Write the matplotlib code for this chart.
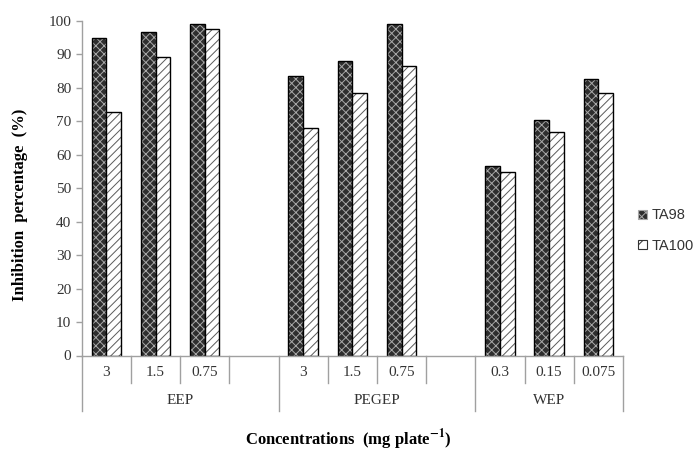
import matplotlib
matplotlib.use("Agg")
import matplotlib.pyplot as plt
from matplotlib.patches import Patch
import numpy as np

# data
groups = ["EEP", "PEGEP", "WEP"]
conc_labels = ["3", "1.5", "0.75", "", "3", "1.5", "0.75", "", "0.3", "0.15", "0.075"]
data_slots = [0, 1, 2, 4, 5, 6, 8, 9, 10]
ta98 = [94.7, 96.7, 99.0, 83.5, 88.1, 99.0, 56.5, 70.4, 82.6]
ta100 = [72.7, 89.2, 97.4, 68.1, 78.4, 86.5, 54.9, 66.9, 78.4]
group_edges = [-0.5, 3.5, 7.5, 10.5]
group_centers = [1.5, 5.5, 9.0]

plt.rcParams["hatch.linewidth"] = 0.7
plt.rcParams["mathtext.fontset"] = "stix"

fig = plt.figure(figsize=(6.98, 4.55), dpi=100)
ax = fig.add_axes([81.7 / 698, 1 - 355.5 / 455, (623 - 81.7) / 698, (355.5 - 20.7) / 455])

x = np.array(data_slots)
w = 0.3
dark_face, dark_hatch = "#2e2e2e", "#a8a8a8"
light_hatch = "#5a5a5a"

# TA98: dark fill with light cross hatch, then black outline on top
ax.bar(x - w / 2, ta98, w, color=dark_face, edgecolor=dark_hatch, hatch="xxxx", linewidth=0)
ax.bar(x - w / 2, ta98, w, fill=False, edgecolor="black", linewidth=1.0)
# TA100: white with diagonal hatch
ax.bar(x + w / 2, ta100, w, color="white", edgecolor=light_hatch, hatch="////", linewidth=0)
ax.bar(x + w / 2, ta100, w, fill=False, edgecolor="black", linewidth=1.0)

ax.set_xlim(-0.5, 10.5)
ax.set_ylim(0, 100)
ax.set_yticks(np.arange(0, 101, 10))
ax.set_xticks([])
for s in ["top", "right"]:
    ax.spines[s].set_visible(False)
for s in ["left", "bottom"]:
    ax.spines[s].set_color("#a0a0a0")
    ax.spines[s].set_linewidth(1.0)
ax.tick_params(axis="y", colors="#a0a0a0", length=4, width=1.0, labelcolor="#333333")
for lab in ax.get_yticklabels():
    lab.set_fontfamily("Liberation Serif")
    lab.set_fontsize(11)

# multi-level category axis
trans = ax.get_xaxis_transform()
for i in range(12):
    xe = i - 0.5
    y_end = -0.166 if xe in group_edges else -0.082
    ax.plot([xe, xe], [0, y_end], color="#a0a0a0", lw=1.0, transform=trans, clip_on=False)
for i, lab in enumerate(conc_labels):
    ax.text(i, -0.052, lab, transform=trans, ha="center", va="center",
            fontfamily="Liberation Serif", fontsize=11, color="#333333")
for gx, g in zip(group_centers, groups):
    ax.text(gx, -0.133, g, transform=trans, ha="center", va="center",
            fontfamily="Liberation Serif", fontsize=11, color="#333333")

fig.text(20 / 698, 1 - 205 / 455, "Inhibition  percentage  (%)", rotation=90,
         ha="center", va="center", fontfamily="Liberation Serif", fontweight="bold", fontsize=12)
fig.text(348 / 698, 1 - 440 / 455, r"Concentrations  (mg plate$^{\mathbf{-1}}$)",
         ha="center", va="center", fontfamily="Liberation Serif", fontweight="bold", fontsize=12)

handles = [
    Patch(facecolor=dark_face, edgecolor=dark_hatch, hatch="xxxx", linewidth=0.8),
    Patch(facecolor="white", edgecolor="#333333", hatch="//", linewidth=0.8),
]
fig.legend(handles, ["TA98", "TA100"], loc="center left",
           bbox_to_anchor=(638 / 698, 1 - 230.5 / 455), frameon=False,
           prop={"family": "Liberation Sans", "size": 10.5},
           handlelength=0.6, handleheight=0.6, handletextpad=0.3,
           labelspacing=1.1, borderpad=0, borderaxespad=0, labelcolor="#333333")

fig.savefig("out.png", dpi=100)
